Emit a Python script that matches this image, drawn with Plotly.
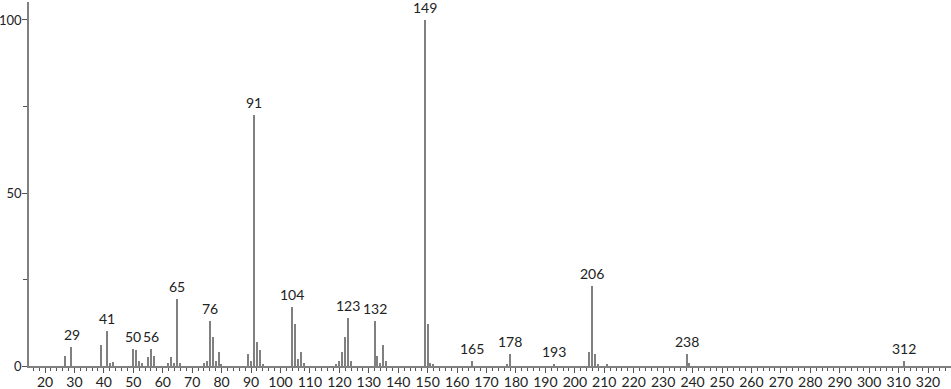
import plotly.graph_objects as go

mz = [27, 29, 39, 41, 42, 43, 50, 51, 52, 53, 55, 56, 57, 62, 63, 64, 65, 66,
      74, 75, 76, 77, 78, 79, 80, 89, 90, 91, 92, 93, 94,
      104, 105, 106, 107, 108, 119, 120, 121, 122, 123, 124,
      132, 133, 134, 135, 136, 149, 150, 151, 152, 165, 177, 178, 193,
      205, 206, 207, 208, 211, 238, 239, 312]
intensity = [3, 5.5, 6, 10, 1, 1.2, 5, 4.5, 1.5, 1, 2.5, 5, 3, 0.8, 2.5, 1, 19.5, 1,
             1, 1.5, 13, 8.5, 1.5, 4, 0.5, 3.5, 1.5, 72.5, 7, 4.5, 0.5,
             17, 12, 2, 4, 1, 0.5, 1.5, 4, 8.5, 14, 1.5,
             13, 3, 1, 6, 1.5, 100, 12, 1, 0.5, 1.5, 0.5, 3.5, 0.5,
             4, 23, 3.5, 0.5, 0.3, 3.5, 1, 1.5]
labels = [29, 41, 50, 56, 65, 76, 91, 104, 123, 132, 149, 165, 178, 193, 206, 238, 312]

lookup = dict(zip(mz, intensity))

fig = go.Figure()
fig.add_trace(go.Bar(x=mz, y=intensity, width=0.45,
                     marker=dict(color="#808080", line=dict(width=0)),
                     hoverinfo="x+y"))

for m in labels:
    fig.add_annotation(x=m, y=lookup[m], text=str(m), showarrow=False,
                       yanchor="bottom", yshift=2,
                       font=dict(size=14, color="#222222"))

fig.update_layout(
    width=951, height=389,
    margin=dict(l=29, r=0, t=2, b=23),
    plot_bgcolor="white", paper_bgcolor="white",
    showlegend=False,
    font=dict(family="Lato, DejaVu Sans, sans-serif", size=14, color="#222222"),
    xaxis=dict(range=[14.56, 327.8], tickmode="linear", tick0=20, dtick=10,
               ticks="outside", ticklen=5, tickcolor="#555555",
               showline=True, linecolor="#808080", linewidth=1.5,
               showgrid=False, zeroline=False, automargin=False,
               ticklabelstandoff=-3,
               minor=dict(dtick=2, ticklen=3, tickcolor="#555555", showgrid=False),
               tickfont=dict(size=14)),
    yaxis=dict(range=[0, 105.2], tickvals=[0, 50, 100],
               ticks="outside", ticklen=5, tickcolor="#555555",
               showline=True, linecolor="#808080", linewidth=1.5,
               showgrid=False, zeroline=False, automargin=False,
               ticklabelstandoff=-2,
               minor=dict(tickvals=[25, 75], ticklen=4, tickcolor="#555555", showgrid=False),
               tickfont=dict(size=13)),
    bargap=0,
)

fig.write_html("out.html")
